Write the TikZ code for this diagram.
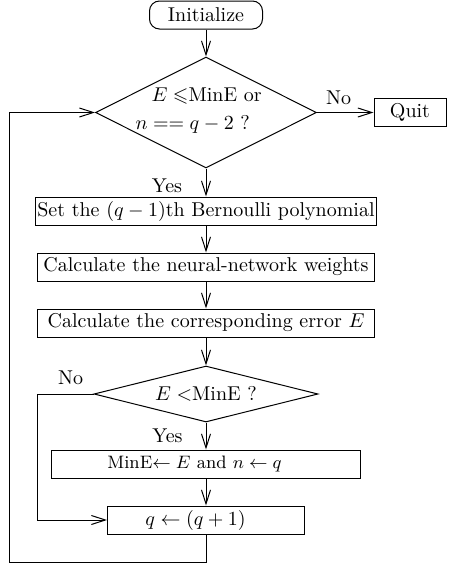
\documentclass[tikz,border=0pt]{standalone}
\usepackage{amssymb}
\usetikzlibrary{shapes.geometric,arrows.meta}
\begin{document}
\begin{tikzpicture}[x=0.5pt,y=-0.5pt,line width=0.5pt,
  every node/.style={font=\fontsize{10}{12}\selectfont},
  box/.style={draw,rectangle,minimum height=14pt,inner sep=1pt},
  decision/.style={draw,diamond,inner sep=0pt},
  flow/.style={-{Straight Barb[length=7pt,width=4.5pt]}}]
\useasboundingbox (0,0) rectangle (451,568);

% process steps
\node[box,rounded corners=5pt,minimum width=56.5pt] (init) at (206,15) {Initialize};
\node[decision,aspect=2,minimum width=110.5pt,minimum height=55.5pt] (d1) at (206,112.5) {};
\node[anchor=base west,inner sep=0pt] (d1a) at (151,101) {$E\leqslant$MinE or};
\node[anchor=base west,inner sep=0pt] (d1b) at (135,129) {$n==q-2$ ?};
\node[box,minimum width=36pt] (quit) at (410,112.5) {Quit};
\node[box,minimum width=168.5pt] (b1) at (206,211) {Set the $(q-1)$th Bernoulli polynomial};
\node[box,minimum width=168.5pt] (b2) at (206,267) {Calculate the neural-network weights};
\node[box,minimum width=168.5pt] (b3) at (206,323) {Calculate the corresponding error $E$};
\node[decision,aspect=4,minimum width=112pt,minimum height=28pt] (d2) at (206,394) {$E<$MinE ?};
\node[box,minimum width=154.5pt] (b4) at (206,464) {\small MinE$\leftarrow E$ and $n\leftarrow q$\hspace*{11.5pt}};
\node[box,minimum width=98.5pt] (b5) at (206,520) {$q\leftarrow(q+1)$\hspace*{10.5pt}};

% branch labels
\node (no1) at (338.5,97.5) {No};
\node (yes1) at (167,186) {Yes};
\node (no2) at (70.5,378) {No};
\node (yes2) at (167.5,436) {Yes};

% main flow
\draw[flow] (init) -- (d1);
\draw[flow] (d1.east) -- (quit.west);
\draw[flow] (d1) -- (b1);
\draw[flow] (b1) -- (b2);
\draw[flow] (b2) -- (b3);
\draw[flow] (b3) -- (d2);
\draw[flow] (d2) -- (b4);
\draw[flow] (b4) -- (b5);

% skip branch and loop back
\coordinate (n2) at (37,394);
\draw[flow] (d2.west) -- (n2) |- (b5.west);
\coordinate (lp) at (9,562);
\draw[flow] (b5.south) |- (lp) |- (d1.west);
\end{tikzpicture}
\end{document}
